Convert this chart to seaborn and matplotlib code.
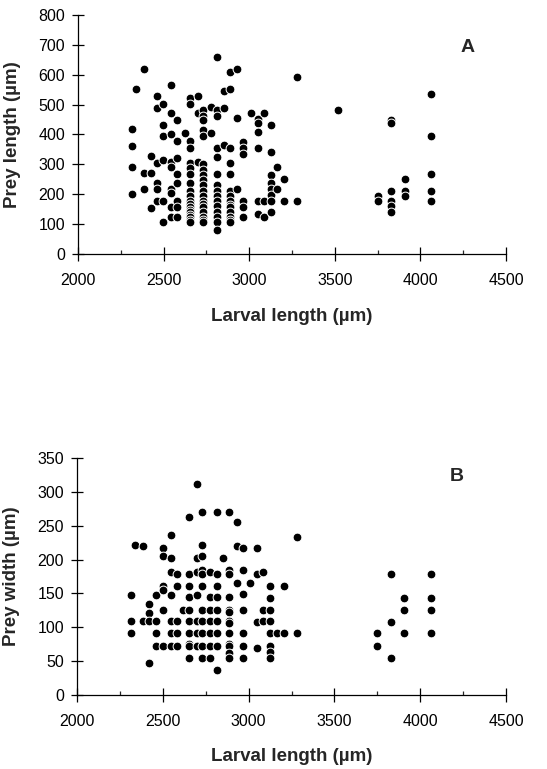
import matplotlib
matplotlib.use("Agg")
import matplotlib.pyplot as plt
import seaborn as sns
import pandas as pd
from matplotlib.ticker import MultipleLocator

# ---------------- data ----------------
# Panel A: larval length (µm) vs prey length (µm)
lenA_x = ([2314]*4 + [2340] + [2387]*3 + [2424]*3 + [2462]*6 + [2498]*6 +
          [2541]*9 + [2578]*8 + [2625] + [2657]*19 + [2698]*3 + [2731]*19 +
          [2775]*2 + [2812]*15 + [2853]*3 + [2888]*14 + [2929]*3 + [2966]*6 +
          [3008] + [3049]*6 + [3087]*3 + [3126]*8 + [3163]*2 + [3205]*2 +
          [3282]*2 + [3517] + [3752]*2 + [3829]*6 + [3908]*3 + [4062]*5)
lenA_y = [419, 363, 292, 201,
          552,
          620, 272, 216,
          328, 272, 155,
          528, 490, 306, 239, 216, 178,
          502, 431, 395, 315, 178, 108,
          565, 473, 402, 309, 292, 216, 205, 156, 125,
          450, 379, 323, 268, 239, 178, 156, 125,
          404,
          523, 502, 379, 356, 306, 287, 268, 239, 212, 195, 178, 168, 158, 148, 142, 132, 125, 115, 108,
          528, 473, 309,
          482, 463, 450, 415, 395, 300, 281, 264, 248, 231, 212, 195, 178, 168, 158, 142, 125, 115, 108,
          491, 404,
          660, 482, 463, 356, 326, 268, 231, 212, 195, 178, 160, 142, 125, 108, 80,
          546, 490, 365,
          608, 552, 356, 306, 268, 212, 194, 178, 165, 156, 140, 125, 115, 108,
          620, 454, 216,
          376, 356, 334, 178, 156, 125,
          473,
          452, 437, 410, 356, 178, 134,
          473, 178, 123,
          431, 340, 264, 236, 216, 198, 178, 142,
          292, 216,
          250, 178,
          591, 178,
          482,
          194, 178,
          450, 437, 212, 178, 160, 142,
          250, 212, 194,
          535, 395, 268, 212, 178]

# Panel B: larval length (µm) vs prey width (µm)
widB_x = ([2313]*3 + [2338] + [2386]*2 + [2422]*4 + [2460]*4 + [2499]*6 +
          [2546]*7 + [2581]*5 + [2619] + [2655]*10 + [2697]*7 + [2730]*11 +
          [2775]*7 + [2814]*9 + [2853] + [2888]*13 + [2931]*3 + [2969]*7 +
          [3008] + [3047]*4 + [3086]*3 + [3125]*8 + [3164] + [3207]*2 +
          [3280]*2 + [3750]*2 + [3830]*3 + [3906]*3 + [4063]*4)
widB_y = [147, 109, 91,
          222,
          220, 109,
          135, 121, 109, 48,
          147, 109, 91, 73,
          217, 205, 161, 155, 126, 72,
          237, 202, 182, 147, 109, 91, 72,
          179, 161, 109, 91, 72,
          126,
          263, 179, 161, 145, 126, 109, 91, 76, 72, 54,
          311, 202, 182, 147, 109, 91, 72,
          270, 222, 205, 184, 179, 161, 126, 109, 91, 72, 54,
          182, 145, 126, 109, 91, 72, 55,
          270, 179, 161, 145, 126, 109, 91, 72, 37,
          202,
          270, 184, 179, 145, 126, 123, 109, 106, 91, 76, 72, 62, 54,
          256, 220, 165,
          217, 184, 149, 126, 91, 72, 54,
          165,
          217, 179, 108, 69,
          182, 126, 109,
          161, 144, 126, 109, 91, 72, 63, 54,
          91,
          161, 91,
          234, 91,
          91, 72,
          179, 108, 54,
          144, 126, 91,
          179, 144, 126, 91]

x_ticks = [2000, 2500, 3000, 3500, 4000, 4500]
yA_ticks = [0, 100, 200, 300, 400, 500, 600, 700, 800]
yB_ticks = [0, 50, 100, 150, 200, 250, 300, 350]

dfA = pd.DataFrame({"Larval length": lenA_x, "Prey length": lenA_y})
dfB = pd.DataFrame({"Larval length": widB_x, "Prey width": widB_y})

# ---------------- style ----------------
sns.set_style("ticks")
plt.rcParams["font.family"] = ["Liberation Sans", "DejaVu Sans"]

fig = plt.figure(figsize=(5.47, 7.69), dpi=100)
axA = fig.add_axes([0.1426, 0.6697, 0.7825, 0.3108])
axB = fig.add_axes([0.1408, 0.0962, 0.7843, 0.3082])

def style(ax, yticks, ylabel, letter, lx, ly, ylab_x, xlab_y):
    ax.set_xlim(2000, 4500)
    ax.set_ylim(yticks[0], yticks[-1])
    ax.set_xticks(x_ticks)
    ax.set_yticks(yticks)
    ax.xaxis.set_minor_locator(MultipleLocator(250))
    for s in ["top", "right"]:
        ax.spines[s].set_visible(False)
    for s in ["left", "bottom"]:
        ax.spines[s].set_linewidth(0.9)
        ax.spines[s].set_color("black")
    ax.tick_params(axis="x", which="major", direction="inout", length=9.5,
                   width=0.9, pad=9, labelsize=11.5, colors="black")
    ax.tick_params(axis="x", which="minor", direction="in", length=3,
                   width=0.9)
    ax.tick_params(axis="y", which="major", direction="inout", length=8.5,
                   width=0.9, pad=5, labelsize=11.5, colors="black")
    ax.set_xlabel("Larval length (µm)", fontsize=13.5, fontweight="bold")
    ax.set_ylabel(ylabel, fontsize=13.5, fontweight="bold")
    ax.xaxis.label.set_va("center")
    ax.yaxis.label.set_va("center")
    ax.xaxis.set_label_coords(0.5, xlab_y)
    ax.yaxis.set_label_coords(ylab_x, 0.5)
    ax.text(lx, ly, letter, transform=ax.transAxes, fontsize=14,
            fontweight="bold", ha="center", va="center")

sns.scatterplot(data=dfA, x="Larval length", y="Prey length", ax=axA,
                color="black", edgecolor="white", linewidth=0.7, s=40,
                clip_on=False, zorder=3)
sns.scatterplot(data=dfB, x="Larval length", y="Prey width", ax=axB,
                color="black", edgecolor="white", linewidth=0.7, s=40,
                clip_on=False, zorder=3)

style(axA, yA_ticks, "Prey length (µm)", "A", 0.911, 0.862, -0.154, -0.262)
style(axB, yB_ticks, "Prey width (µm)", "B", 0.886, 0.924, -0.152, -0.26)

fig.savefig("out.png", dpi=100)
